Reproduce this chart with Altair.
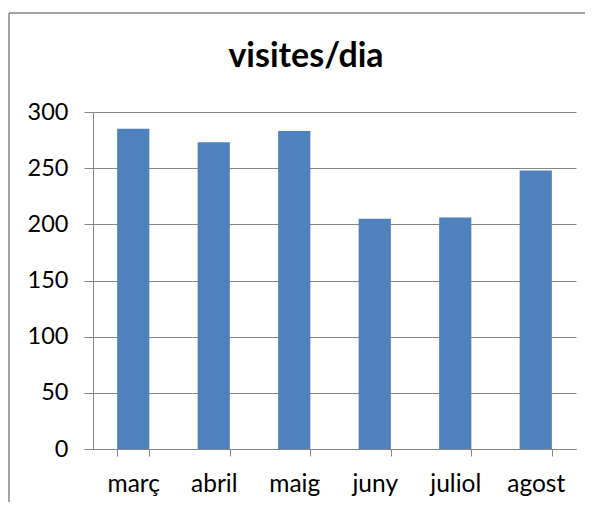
import altair as alt
import pandas as pd

months = ["març", "abril", "maig", "juny", "juliol", "agost"]
visits = [285, 273, 283, 205, 206, 248]
y_ticks = [0, 50, 100, 150, 200, 250, 300]
title_text = "visites/dia"

df = pd.DataFrame({"mes": months, "visites": visits})

GRAY = "#868686"
FONT = "Lato"
W, H = 483, 337

bars = alt.Chart(df).mark_bar(color="#4F81BD").encode(
    x=alt.X(
        "mes:N",
        sort=months,
        title=None,
        scale=alt.Scale(paddingInner=0.6, paddingOuter=0.3),
        axis=alt.Axis(
            labelAngle=0,
            labelFont=FONT,
            labelFontSize=24.5,
            labelColor="black",
            labelPadding=16,
            tickBand="extent",
            tickSize=7,
            tickColor=GRAY,
            domainColor=GRAY,
            grid=False,
        ),
    ),
    y=alt.Y(
        "visites:Q",
        title=None,
        scale=alt.Scale(domain=[0, 300], nice=False),
        axis=alt.Axis(
            values=y_ticks,
            labelFont=FONT,
            labelFontSize=23.5,
            labelColor="black",
            labelPadding=16,
            tickSize=9,
            tickColor=GRAY,
            domainColor=GRAY,
            gridColor=GRAY,
            grid=True,
        ),
    ),
)

one = pd.DataFrame({"k": [0]})
frame_top = alt.Chart(one).mark_rule(color=GRAY, strokeWidth=1.5, strokeCap="butt").encode(
    x=alt.value(-84), x2=alt.value(W + 40), y=alt.value(-99)
)
frame_left = alt.Chart(one).mark_rule(color=GRAY, strokeWidth=1.5, strokeCap="butt").encode(
    x=alt.value(-84), y=alt.value(-99), y2=alt.value(H + 60)
)

title = alt.Chart(pd.DataFrame({"t": [title_text]})).mark_text(
    font=FONT, fontSize=34, fontWeight="bold", color="black",
    align="center", baseline="alphabetic",
).encode(
    text="t:N", x=alt.value(213), y=alt.value(-45)
)

chart = alt.layer(frame_top, frame_left, bars, title).properties(
    width=W,
    height=H,
    padding={"left": 85, "top": 104, "right": 9, "bottom": 53},
    autosize=alt.AutoSizeParams(type="none"),
).configure_view(stroke=None)

chart.save("out.html", embed_options={"renderer": "svg", "actions": False})
